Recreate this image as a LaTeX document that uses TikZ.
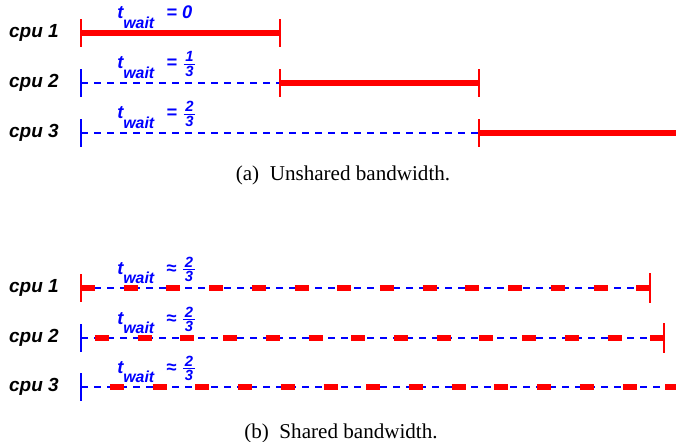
\documentclass[tikz,border=0pt]{standalone}
\usepackage{amsmath}
\usepackage{fontspec}
\setmainfont{Liberation Serif}
\setsansfont{Liberation Sans}
\usetikzlibrary{positioning}
\tikzset{
  cpulabel/.style={font=\sffamily\bfseries\itshape\fontsize{13.5}{16}\selectfont, anchor=east, inner sep=0pt},
  waitlabel/.style={font=\sffamily\bfseries\itshape\fontsize{13}{16}\selectfont, text=blue, anchor=base west, inner sep=0pt},
  busy/.style={red, line width=4pt},
  idle/.style={blue, line width=0.8pt, dash pattern=on 0.175cm off 0.15cm},
  shared/.style={red, line width=4pt, dash pattern=on 0.35cm off 0.7175cm},
  redtick/.style={red, line width=0.9pt},
  bluetick/.style={blue, line width=0.9pt},
  captext/.style={font=\fontsize{15}{18}\selectfont, inner sep=0pt}
}
\newcommand{\twait}{t\raisebox{-7pt}{\fontsize{11.3}{13}\selectfont wait}}
\newcommand{\wdigit}[1]{\text{\fontsize{10.5}{12}\selectfont\hspace{1.2pt}#1\hspace{1.2pt}}}
\newcommand{\wfrac}[2]{$\genfrac{}{}{0.9pt}{1}{\wdigit{#1}}{\wdigit{#2}}$}

\begin{document}
\begin{tikzpicture}[x=0.025cm, y=-0.025cm]
\useasboundingbox (0,0) rectangle (676,441);
% (a) unshared bandwidth
\coordinate (u1s) at (81,33);
\coordinate (u1e) at (280,33);
\coordinate (u2s) at (81,83);
\coordinate (u2m) at (280,83);
\coordinate (u2e) at (479,83);
\coordinate (u3s) at (81,133);
\coordinate (u3m) at (479,133);
\coordinate (u3e) at (676,133);
\node[cpulabel] (ucpu1) at (59,33) {cpu 1};
\node[cpulabel] (ucpu2) at (59,83) {cpu 2};
\node[cpulabel] (ucpu3) at (59,133) {cpu 3};
\node[waitlabel] (ut1) at (117,18.5) {\twait};
\node[waitlabel] (ueq1) at (166,18.5) {= 0};
\node[waitlabel] (ut2) at (117,68.5) {\twait};
\node[waitlabel] (ueq2) at (166,68.5) {= \wfrac{1}{3}};
\node[waitlabel] (ut3) at (117,118.5) {\twait};
\node[waitlabel] (ueq3) at (166,118.5) {= \wfrac{2}{3}};
\draw[busy] (u1s) -- (u1e);
\draw[redtick] (u1s) ++(0,-14) -- ++(0,28);
\draw[redtick] (u1e) ++(0,-14) -- ++(0,28);
\draw[idle] (u2s) -- (u2m);
\draw[busy] (u2m) -- (u2e);
\draw[bluetick] (u2s) ++(0,-14) -- ++(0,28);
\draw[redtick] (u2m) ++(0,-14) -- ++(0,28);
\draw[redtick] (u2e) ++(0,-14) -- ++(0,28);
\draw[idle] (u3s) -- (u3m);
\draw[busy] (u3m) -- (u3e);
\draw[bluetick] (u3s) ++(0,-14) -- ++(0,28);
\draw[redtick] (u3m) ++(0,-14) -- ++(0,28);
\node[captext] (capa) at (343,175) {(a)\enspace Unshared bandwidth.};
% (b) shared bandwidth
\coordinate (s1s) at (81,288);
\coordinate (s1e) at (650,288);
\coordinate (s2s) at (81,338);
\coordinate (s2r) at (95,338);
\coordinate (s2e) at (664,338);
\coordinate (s3s) at (81,387);
\coordinate (s3r) at (110,387);
\coordinate (s3e) at (676,387);
\node[cpulabel] (scpu1) at (59,288) {cpu 1};
\node[cpulabel] (scpu2) at (59,338) {cpu 2};
\node[cpulabel] (scpu3) at (59,387) {cpu 3};
\node[waitlabel] (st1) at (117,274) {\twait};
\node[waitlabel] (seq1) at (166,274) {≈ \wfrac{2}{3}};
\node[waitlabel] (st2) at (117,324) {\twait};
\node[waitlabel] (seq2) at (166,324) {≈ \wfrac{2}{3}};
\node[waitlabel] (st3) at (117,373) {\twait};
\node[waitlabel] (seq3) at (166,373) {≈ \wfrac{2}{3}};
\draw[idle] (s1s) -- (s1e);
\draw[shared] (s1s) -- (s1e);
\draw[redtick] (s1s) ++(0,-14) -- ++(0,28);
\draw[redtick] (s1e) ++(0,-15) -- ++(0,30);
\draw[idle] (s2s) -- (s2e);
\draw[shared] (s2r) -- (s2e);
\draw[bluetick] (s2s) ++(0,-14) -- ++(0,28);
\draw[redtick] (s2e) ++(0,-15) -- ++(0,30);
\draw[idle] (s3s) -- (s3e);
\draw[shared] (s3r) -- (s3e);
\draw[bluetick] (s3s) ++(0,-14) -- ++(0,28);
\node[captext] (capb) at (341,433) {(b)\enspace Shared bandwidth.};
\end{tikzpicture}
\end{document}
